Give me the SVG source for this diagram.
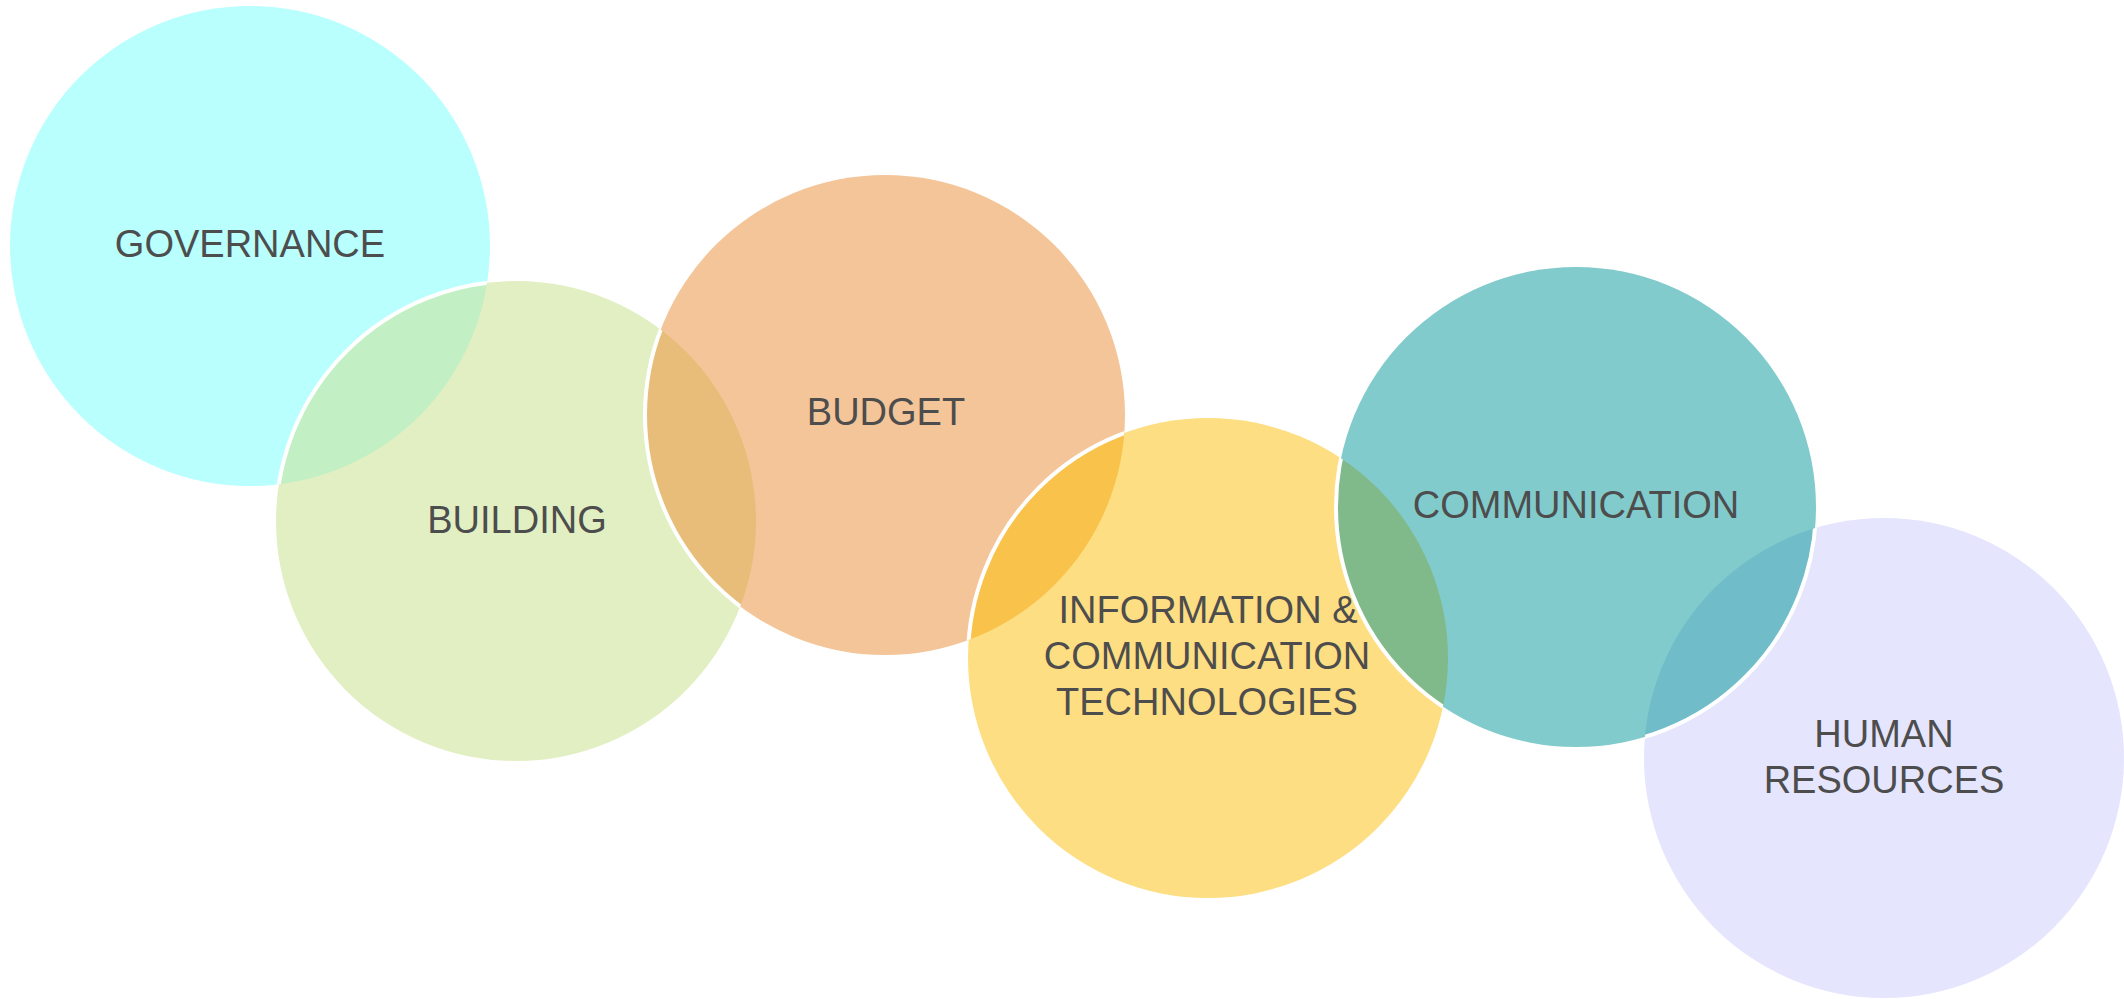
<svg xmlns="http://www.w3.org/2000/svg" width="2124" height="999" viewBox="0 0 2124 999">
  <style>
    .lbl { font-family: "Liberation Sans", Arial, sans-serif; font-size: 38px; fill: #4d4d4d; text-anchor: middle; }
    .edge { fill: none; stroke: #ffffff; stroke-width: 4; }
  </style>
  <defs>
    <clipPath id="clip-gov"><circle cx="250" cy="246" r="240"/></clipPath>
    <clipPath id="clip-bld"><circle cx="516" cy="521" r="240"/></clipPath>
    <clipPath id="clip-bud"><circle cx="885" cy="415" r="240"/></clipPath>
    <clipPath id="clip-ict"><circle cx="1208" cy="658" r="240"/></clipPath>
    <clipPath id="clip-hr"><circle cx="1884" cy="758" r="240"/></clipPath>
  </defs>
  <rect x="0" y="0" width="2124" height="999" fill="#ffffff"/>

  <g id="governance">
    <circle cx="250" cy="246" r="240" fill="#b9fffe"/>
    <text class="lbl" x="250" y="257">GOVERNANCE</text>
  </g>

  <g id="building">
    <circle cx="516" cy="521" r="240" fill="#e2efc3"/>
    <circle cx="516" cy="521" r="240" fill="#c2f0c4" clip-path="url(#clip-gov)"/>
    <circle class="edge" cx="516" cy="521" r="240" clip-path="url(#clip-gov)"/>
    <text class="lbl" x="517" y="533">BUILDING</text>
  </g>

  <g id="budget">
    <circle cx="885" cy="415" r="240" fill="#f4c599"/>
    <circle cx="885" cy="415" r="240" fill="#e8bd7a" clip-path="url(#clip-bld)"/>
    <circle class="edge" cx="885" cy="415" r="240" clip-path="url(#clip-bld)"/>
    <text class="lbl" x="886" y="425">BUDGET</text>
  </g>

  <g id="ict">
    <circle cx="1208" cy="658" r="240" fill="#fede82"/>
    <circle cx="1208" cy="658" r="240" fill="#f9c24b" clip-path="url(#clip-bud)"/>
    <circle class="edge" cx="1208" cy="658" r="240" clip-path="url(#clip-bud)"/>
    <text class="lbl" x="1208" y="623">INFORMATION &amp;</text>
    <text class="lbl" x="1207" y="669">COMMUNICATION</text>
    <text class="lbl" x="1207" y="715">TECHNOLOGIES</text>
  </g>

  <g id="human-resources">
    <circle cx="1884" cy="758" r="240" fill="#e5e5fe"/>
    <text class="lbl" x="1884" y="747">HUMAN</text>
    <text class="lbl" x="1884" y="793">RESOURCES</text>
  </g>

  <g id="communication">
    <circle cx="1576" cy="507" r="240" fill="#82cbcc"/>
    <circle cx="1576" cy="507" r="240" fill="#80ba8b" clip-path="url(#clip-ict)"/>
    <circle cx="1576" cy="507" r="240" fill="#70bdc9" clip-path="url(#clip-hr)"/>
    <circle class="edge" cx="1576" cy="507" r="240" clip-path="url(#clip-ict)"/>
    <circle class="edge" cx="1576" cy="507" r="240" clip-path="url(#clip-hr)"/>
    <text class="lbl" x="1576" y="518">COMMUNICATION</text>
  </g>

  <g id="connectors"></g>
</svg>
